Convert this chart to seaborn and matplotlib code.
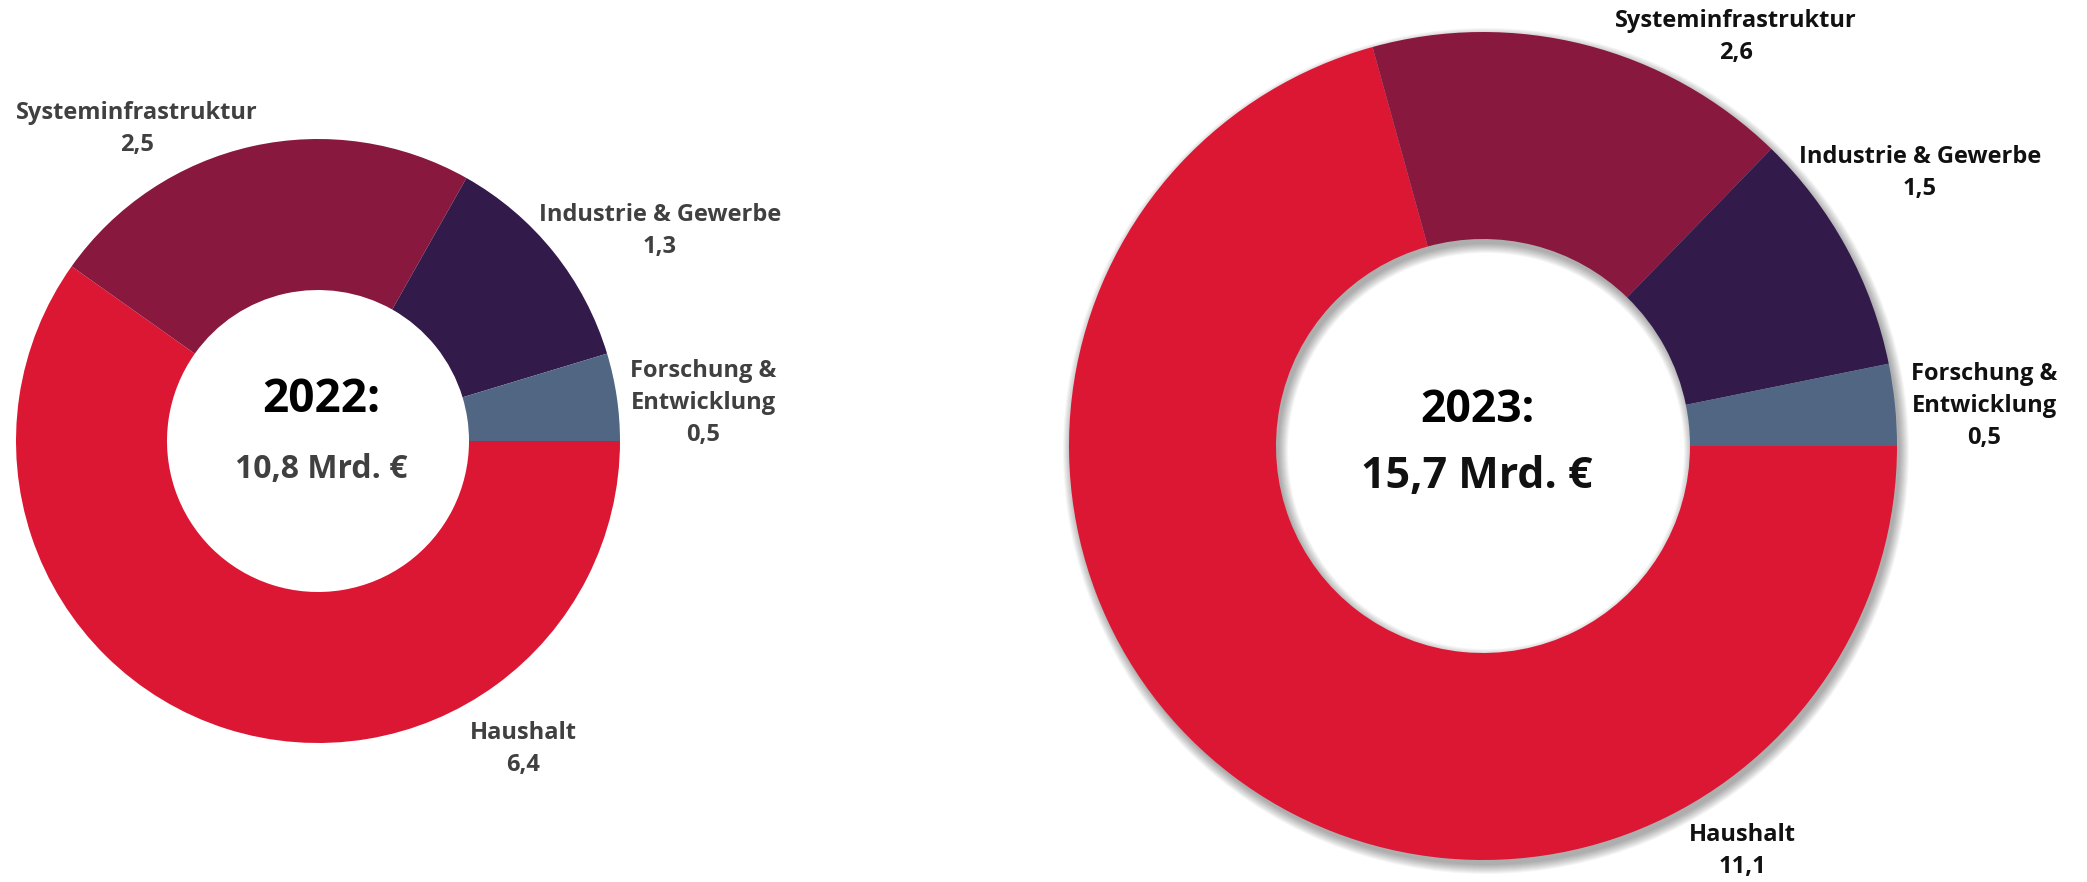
import numpy as np
import seaborn as sns
import matplotlib.pyplot as plt

categories = ["Haushalt", "Systeminfrastruktur", "Industrie & Gewerbe", "Forschung &\nEntwicklung"]
values_2022 = [6.4, 2.5, 1.3, 0.5]
values_2023 = [11.1, 2.6, 1.5, 0.5]
years = ["2022", "2023"]
totals = [10.8, 15.7]
palette = ["#DC1734", "#88183E", "#321A4B", "#506683"]

sns.set_style("white")
plt.rcParams["font.family"] = ["Open Sans", "DejaVu Sans"]

W, H = 2087, 882


def fmt(v):
    return f"{v:.1f}".replace(".", ",")


fig = plt.figure(figsize=(W / 100, H / 100), dpi=100)
ax = fig.add_axes([0, 0, 1, 1])

# donut geometry in pixels (x, y from top)
donuts = [
    dict(vals=values_2022, cx=318, cy=441, r=302, shadow=False, color="#404040",
         text_x=321, year_y=400, total_y=470, year_fs=33, total_fs=23,
         total_color="#404040",
         labels=[(523, 749), (137, 129), (660, 231), (703, 403)]),
    dict(vals=values_2023, cx=1483, cy=446, r=414, shadow=True, color="#111111",
         text_x=1477, year_y=410, total_y=477, year_fs=32, total_fs=31,
         total_color="#111111",
         labels=[(1742, 851), (1736, 37), (1920, 173), (1984, 406)]),
]

for d, year, total in zip(donuts, years, totals):
    cx, cy, r = d["cx"], H - d["cy"], d["r"]
    ring = 0.5 * r
    if d["shadow"]:
        # soft drop shadow from stacked translucent rings
        for s in np.linspace(0, 9, 10):
            ax.pie([1], center=(cx + 3, cy - 5), radius=r + s, startangle=0,
                   colors=["#000000"],
                   wedgeprops=dict(width=ring + 2 * s, linewidth=0, alpha=0.035))
    ax.pie(d["vals"], center=(cx, cy), radius=r, startangle=0, counterclock=False,
           colors=palette, wedgeprops=dict(width=ring, linewidth=0))
    for cat, v, (lx, ly) in zip(categories, d["vals"], d["labels"]):
        ax.text(lx, H - ly, f"{cat}\n{fmt(v)}", ha="center", va="center",
                fontsize=17, fontweight="bold", color=d["color"], linespacing=1.45)
    ax.text(d["text_x"], H - d["year_y"], f"{year}:", ha="center", va="center",
            fontsize=d["year_fs"], fontweight="bold", color="#000000")
    ax.text(d["text_x"], H - d["total_y"], f"{fmt(total)} Mrd. €", ha="center",
            va="center", fontsize=d["total_fs"], fontweight="bold",
            color=d["total_color"])

ax.set_xlim(0, W)
ax.set_ylim(0, H)
ax.set_aspect("equal", adjustable="box")
ax.axis("off")

fig.savefig("out.png", dpi=100, facecolor="white")
